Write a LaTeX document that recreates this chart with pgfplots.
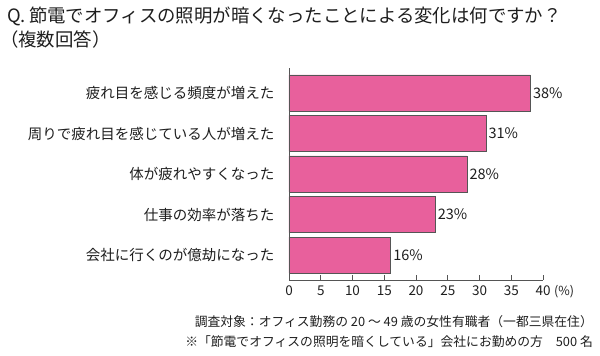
\documentclass[border=0pt]{standalone}
\usepackage{fontspec}
\setmainfont{Noto Sans CJK JP}
\usepackage{pgfplots}
\pgfplotsset{compat=1.18}
\definecolor{barpink}{RGB}{232,96,156}
\definecolor{edgegray}{RGB}{85,85,85}
\definecolor{txt}{RGB}{30,30,30}
\begin{document}
\begin{tikzpicture}
\path[use as bounding box] (0pt,0pt) rectangle (600pt,356pt);
\node[anchor=base west, font=\fontsize{18.4}{20}\selectfont, text=txt, inner sep=0] at (7pt,333pt) {Q.\,節電でオフィスの照明が暗くなったことによる変化は何ですか？};
\node[anchor=base west, font=\fontsize{18.4}{20}\selectfont, text=txt, inner sep=0] at (0pt,309pt) {（複数回答）};
\begin{axis}[
  at={(289pt,76pt)}, anchor=south west,
  scale only axis, width=254pt, height=212pt,
  xmin=0, xmax=40, ymin=-0.617, ymax=4.617,
  axis lines=left,
  axis line style={-, draw=edgegray, line width=0.9pt},
  xtick={0,5,...,40},
  tick align=inside,
  x tick style={draw=edgegray, line width=0.8pt},
  major tick length=5pt,
  ytick={0,1,2,3,4},
  y tick style={draw=none},
  yticklabels={会社に行くのが億劫になった,仕事の効率が落ちた,体が疲れやすくなった,周りで疲れ目を感じている人が増えた,疲れ目を感じる頻度が増えた},
  yticklabel style={font=\fontsize{14.5}{16}\selectfont, text=txt, xshift=-6pt},
  xticklabel style={font=\fontsize{13.5}{15}\selectfont, text=txt, yshift=-2pt},
  /pgf/number format/assume math mode=true,
  xbar, bar width=36pt, bar shift=0pt,
  point meta=explicit symbolic,
  nodes near coords,
  nodes near coords style={font=\fontsize{14.5}{16}\selectfont, text=txt, anchor=west, inner sep=2.5pt},
  clip=false,
]
\addplot[fill=barpink, draw=edgegray, line width=0.6pt] coordinates {
  (16,0) [16\%]
  (23,1) [23\%]
  (28,2) [28\%]
  (31,3) [31\%]
  (38,4) [38\%]
};
\node[anchor=west, font=\fontsize{12.5}{14}\selectfont, text=txt, inner sep=0] at (rel axis cs:1,0) [xshift=11pt, yshift=-12pt] {(\%)};
\end{axis}
\node[anchor=base east, font=\fontsize{12.8}{14}\selectfont, text=txt, inner sep=0] at (593pt,29pt) {調査対象：オフィス勤務の 20 ～ 49 歳の女性有職者（一都三県在住）};
\node[anchor=base east, font=\fontsize{12.8}{14}\selectfont, text=txt, inner sep=0] at (593pt,9pt) {※「節電でオフィスの照明を暗くしている」会社にお勤めの方　500 名};
\end{tikzpicture}
\end{document}
